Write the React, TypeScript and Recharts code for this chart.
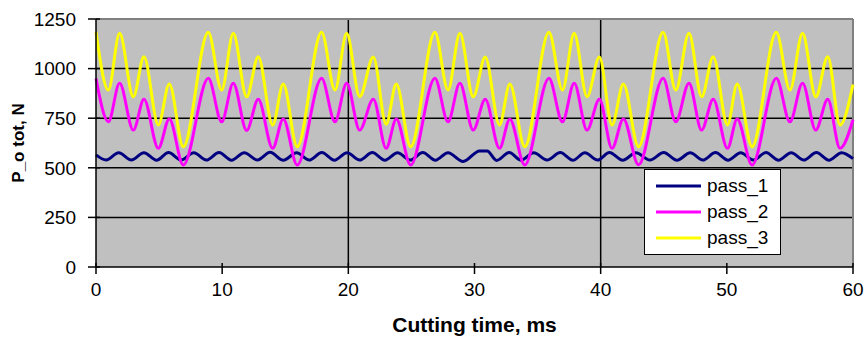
import { CartesianGrid, Legend, Line, LineChart, ReferenceLine, XAxis, YAxis } from 'recharts';

const FONT = '"Liberation Sans", Arial, sans-serif';

// time ticks / force ticks
const xTicks = [0, 10, 20, 30, 40, 50, 60];
const yTicks = [0, 250, 500, 750, 1000, 1250];
const gridY = [250, 500, 750, 1000];
const gridX = [20, 40];

// pass_1: small ripple, read peak/trough by peak/trough
const pass1T = [
  0, 0.8, 1.8, 2.8, 3.8, 4.8, 5.75, 6.75, 7.75, 8.75, 9.75, 10.75, 11.75, 12.8, 13.8, 14.85,
  15.9, 16.9, 17.9, 18.9, 19.9, 20.9, 21.9, 22.9, 23.9, 24.9, 25.9, 26.9, 27.9, 29.1, 30.4,
  31.0, 31.75, 32.75, 33.7, 34.7, 35.75, 36.8, 37.8, 38.75, 39.75, 40.7, 41.75, 42.8, 43.9,
  45.0, 46.05, 47.1, 48.1, 49.1, 50.1, 51.1, 52.1, 53.1, 54.1, 55.1, 56.1, 57.1, 58.1, 59.1, 60,
];
const pass1V = [
  565, 539, 576, 539, 576, 538, 577, 539, 576, 539, 577, 538, 576, 539, 578, 538,
  576, 539, 577, 538, 576, 539, 577, 538, 576, 539, 577, 538, 576, 532, 585,
  585, 537, 577, 538, 576, 539, 577, 538, 576, 539, 577, 538, 576, 539,
  577, 538, 576, 539, 577, 538, 576, 539, 577, 538, 576, 539, 577, 538, 576, 546,
];

// pass_2 and pass_3 share the extremum times
const pass23T = [
  0, 0.98, 1.87, 2.96, 3.8, 4.94, 5.81, 6.92,
  8.9, 9.96, 10.88, 11.94, 12.86, 14.0, 14.84, 15.95,
  17.88, 18.94, 19.87, 20.9, 21.98, 23.0, 23.8, 24.94,
  26.86, 27.9, 28.84, 29.9, 30.85, 31.98, 32.8, 33.98,
  35.9, 36.97, 37.9, 38.92, 39.9, 40.9, 41.8, 43.0,
  44.95, 45.95, 47.0, 48.0, 48.92, 50.05, 50.82, 52.0,
  53.92, 55.0, 56.0, 57.05, 58.0, 58.97, 60,
];
const pass2V = [
  950, 732, 926, 690, 845, 598, 746, 514,
  951, 732, 926, 688, 845, 598, 746, 514,
  951, 732, 926, 690, 846, 598, 746, 514,
  951, 732, 926, 690, 845, 598, 745, 514,
  951, 732, 926, 690, 845, 598, 746, 515,
  951, 732, 926, 690, 845, 598, 746, 514,
  951, 732, 926, 690, 845, 598, 742,
];
const pass3V = [
  1185, 892, 1178, 858, 1060, 716, 922, 606,
  1183, 892, 1178, 858, 1060, 716, 922, 606,
  1183, 892, 1178, 858, 1058, 720, 922, 606,
  1183, 892, 1178, 858, 1058, 716, 922, 606,
  1183, 892, 1178, 858, 1058, 716, 922, 606,
  1183, 892, 1178, 858, 1060, 716, 922, 606,
  1183, 892, 1178, 858, 1060, 716, 920,
];

const series = [
  { name: 'pass_1', color: '#000080', data: pass1T.map((t, i) => ({ t, v: pass1V[i] })) },
  { name: 'pass_2', color: '#FF00FF', data: pass23T.map((t, i) => ({ t, v: pass2V[i] })) },
  { name: 'pass_3', color: '#FFFF00', data: pass23T.map((t, i) => ({ t, v: pass3V[i] })) },
];

// tick marks in the reference cross the axis line, so draw the inner stub here
function YTick(props: any) {
  const { x, y, payload } = props;
  return (
    <g>
      <line x1={x + 20} x2={x + 24} y1={y} y2={y} stroke="#000" strokeWidth={1.5} />
      <text x={x} y={y} dy="0.355em" textAnchor="end" fontFamily={FONT} fontSize={19} fill="#000">
        {payload.value}
      </text>
    </g>
  );
}

function XTick(props: any) {
  const { x, y, payload } = props;
  return (
    <g>
      <line x1={x} x2={x} y1={y - 20} y2={y - 16} stroke="#000" strokeWidth={1.5} />
      <text x={x} y={y} dy="0.71em" textAnchor="middle" fontFamily={FONT} fontSize={19} fill="#000">
        {payload.value}
      </text>
    </g>
  );
}

function LegendBox() {
  return (
    <div
      style={{
        width: 137,
        height: 86,
        boxSizing: 'border-box',
        background: '#fff',
        border: '1px solid #000',
        paddingTop: 3,
        fontFamily: FONT,
        fontSize: 19,
        color: '#000',
      }}
    >
      {series.map((s) => (
        <div key={s.name} style={{ height: 26, display: 'flex', alignItems: 'center' }}>
          <svg width={62} height={26} style={{ display: 'block' }}>
            <line x1={11} x2={56} y1={13} y2={13} stroke={s.color} strokeWidth={3} />
          </svg>
          <span style={{ lineHeight: '26px' }}>{s.name}</span>
        </div>
      ))}
    </div>
  );
}

export default function App() {
  return (
    <div style={{ position: 'absolute', left: 0, top: 0, background: '#fff' }}>
      <LineChart width={865} height={337} margin={{ top: 19, right: 12, bottom: 0, left: 0 }}>
        <CartesianGrid fill="#C0C0C0" stroke="none" />
        {gridY.map((y) => (
          <ReferenceLine key={'y' + y} y={y} stroke="#000" strokeWidth={1.5} />
        ))}
        {gridX.map((x) => (
          <ReferenceLine key={'x' + x} x={x} stroke="#000" strokeWidth={1.5} />
        ))}
        <ReferenceLine y={1250} stroke="#808080" strokeWidth={2} />
        <ReferenceLine x={60} stroke="#808080" strokeWidth={2} />
        <XAxis
          type="number"
          dataKey="t"
          domain={[0, 60]}
          ticks={xTicks}
          height={70}
          stroke="#000"
          strokeWidth={1.5}
          tickSize={7}
          tickMargin={9}
          tick={<XTick />}
          label={{
            content: (p: any) => (
              <text
                x={p.viewBox.x + p.viewBox.width / 2}
                y={p.viewBox.y + 65}
                textAnchor="middle"
                fontFamily={FONT}
                fontWeight="bold"
                fontSize={21}
                fill="#000"
              >
                Cutting time, ms
              </text>
            ),
          }}
        />
        <YAxis
          type="number"
          domain={[0, 1250]}
          ticks={yTicks}
          width={96}
          stroke="#000"
          strokeWidth={1.5}
          tickSize={8}
          tickMargin={12}
          tick={<YTick />}
          label={{
            content: (p: any) => {
              const x = p.viewBox.x + 18;
              const y = p.viewBox.y + p.viewBox.height / 2;
              return (
                <text
                  x={x}
                  y={y}
                  transform={`rotate(-90 ${x} ${y})`}
                  textAnchor="middle"
                  dominantBaseline="central"
                  fontFamily={FONT}
                  fontWeight="bold"
                  fontSize={17}
                  fill="#000"
                >
                  P_o tot, N
                </text>
              );
            },
          }}
        />
        {series.map((s) => (
          <Line
            key={s.name}
            data={s.data}
            dataKey="v"
            name={s.name}
            type="monotone"
            stroke={s.color}
            strokeWidth={3}
            dot={false}
            activeDot={false}
            isAnimationActive={false}
          />
        ))}
        <Legend
          layout="vertical"
          align="center"
          verticalAlign="middle"
          content={() => <LegendBox />}
          wrapperStyle={{ position: 'absolute', left: 644, top: 169, width: 137, height: 86 }}
        />
      </LineChart>
    </div>
  );
}
